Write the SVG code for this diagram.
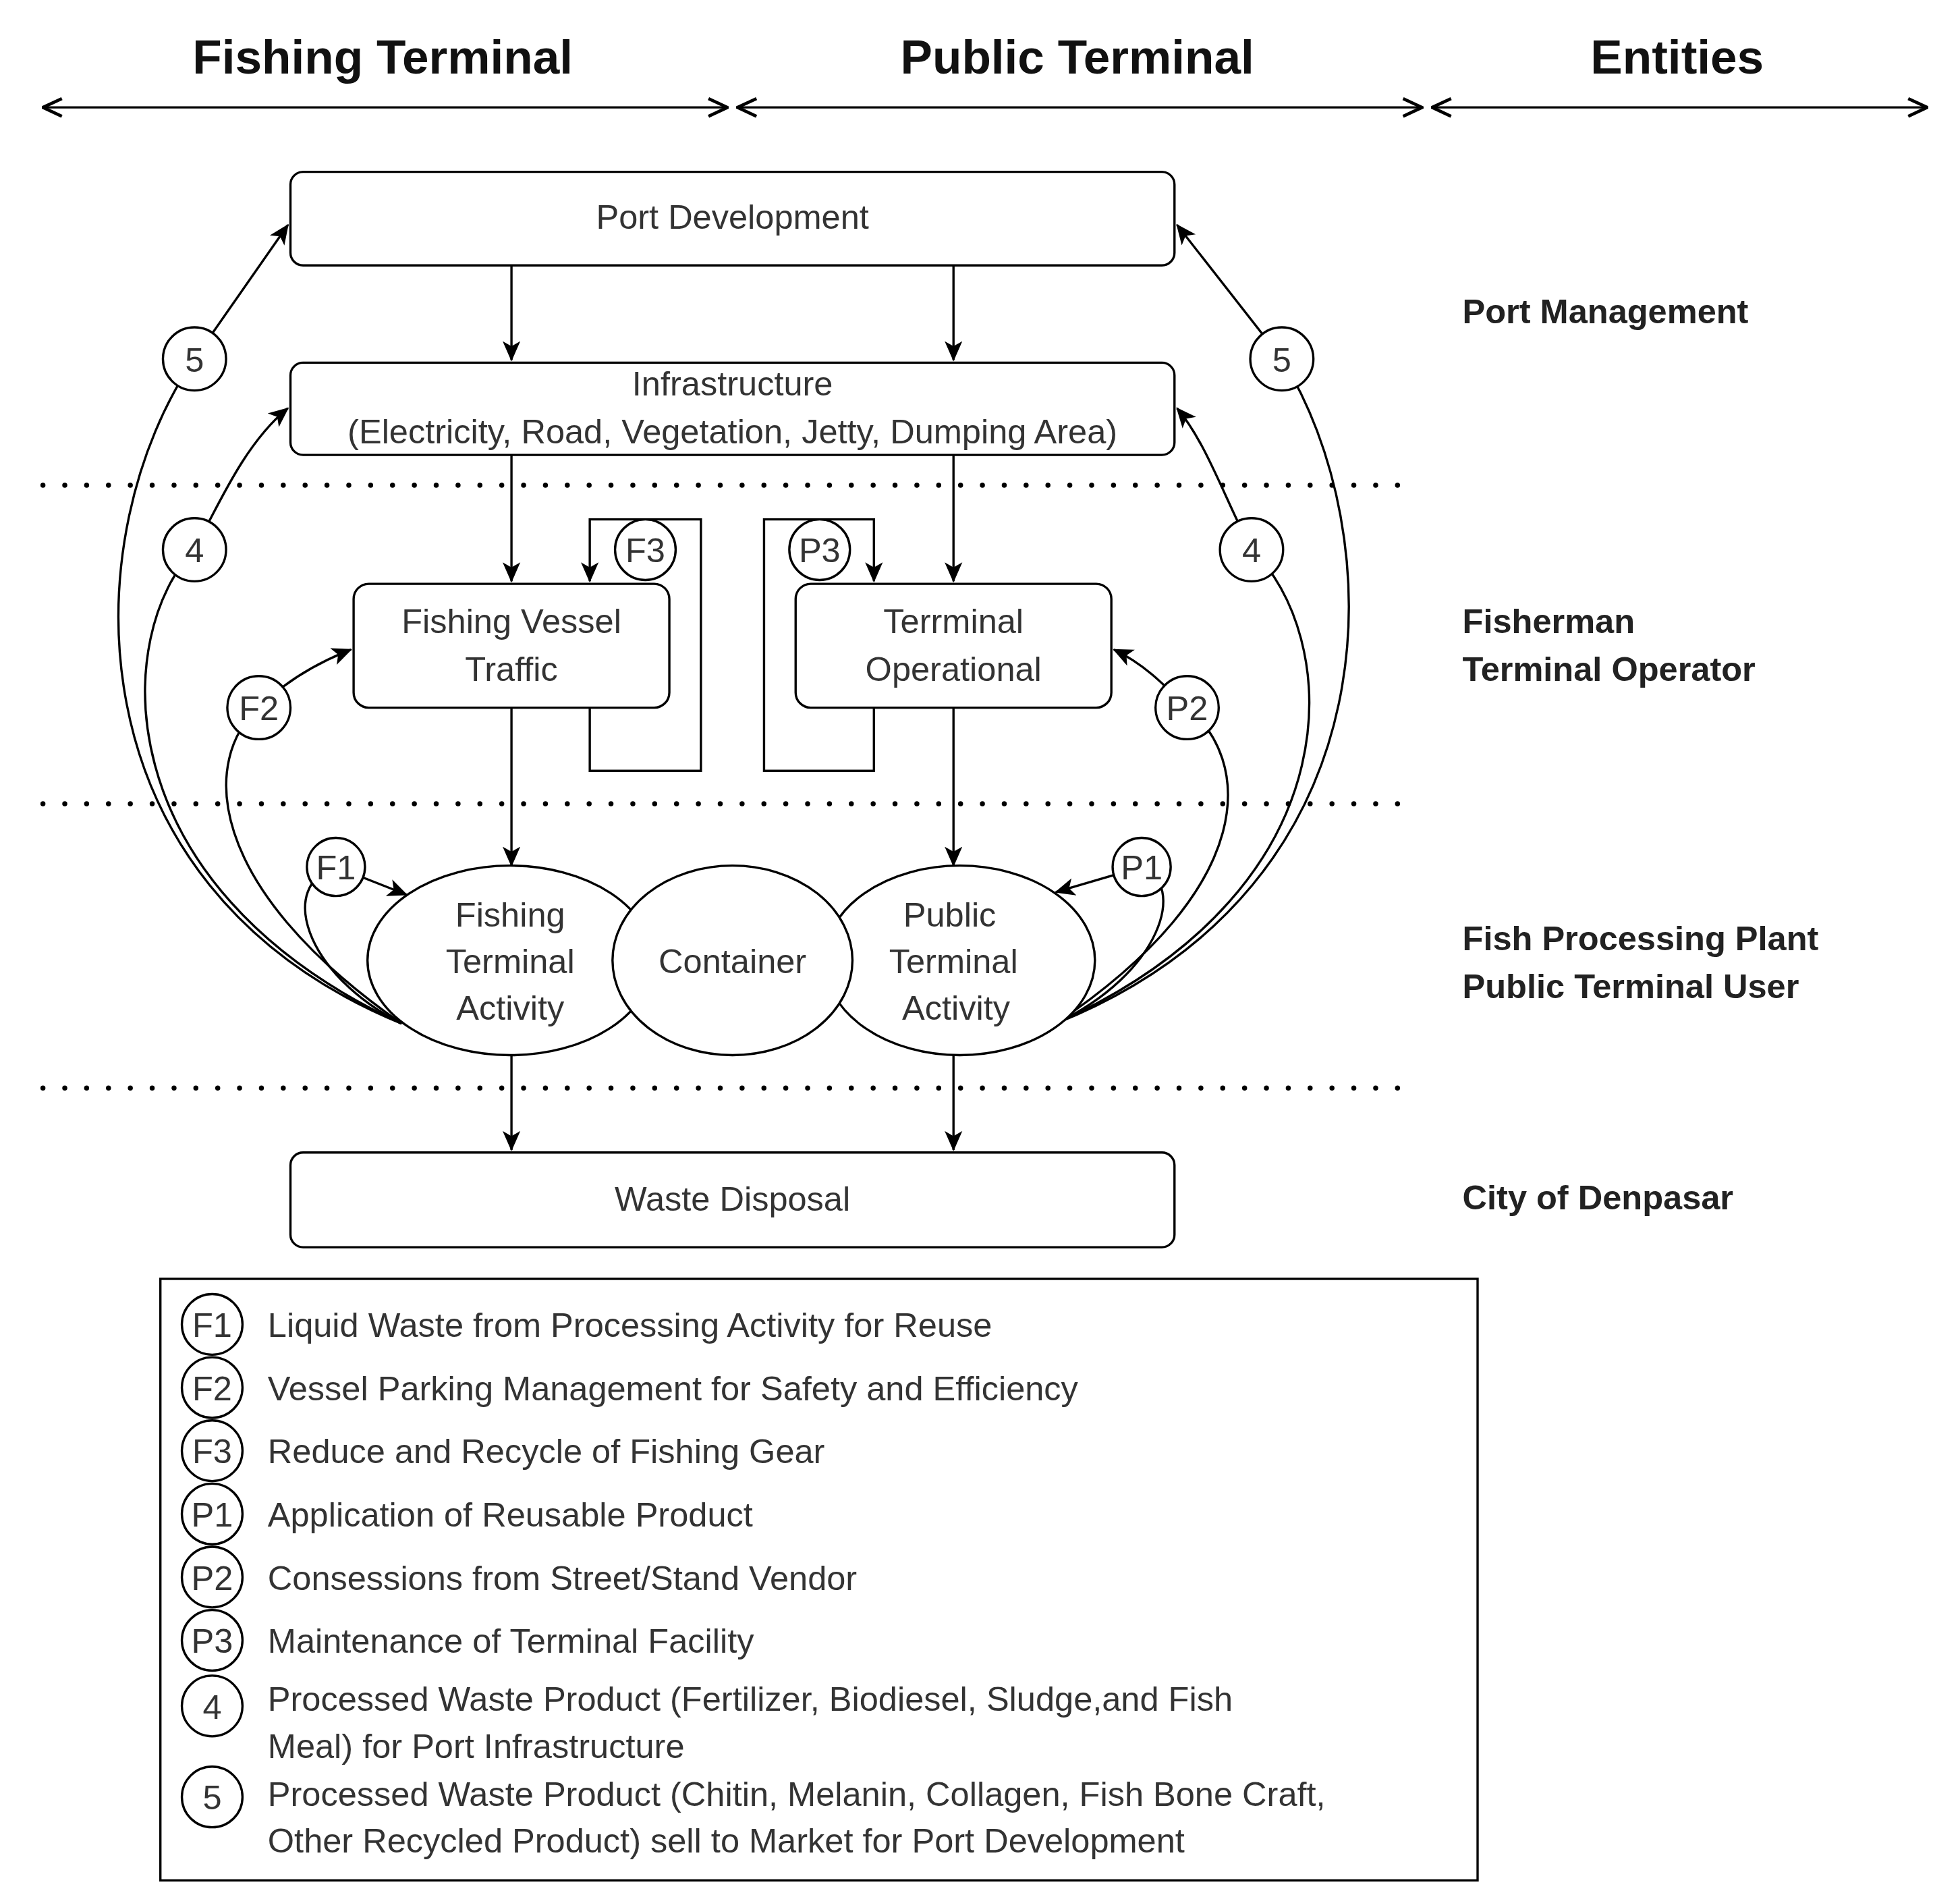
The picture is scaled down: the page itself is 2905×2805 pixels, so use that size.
<svg xmlns="http://www.w3.org/2000/svg" width="2905" height="2805" viewBox="0 0 2905 2805">
<defs>
<marker id="ah" markerUnits="userSpaceOnUse" markerWidth="16" markerHeight="16" viewBox="0 0 16 16" refX="15" refY="8" orient="auto-start-reverse"><path d="M0,1 L16,8 L0,15 L4,8 Z" fill="#000"/></marker>
<marker id="hh" markerUnits="userSpaceOnUse" markerWidth="18" markerHeight="18" viewBox="0 0 18 18" refX="17" refY="9" orient="auto-start-reverse"><path d="M2,2 L17,9 L2,16" fill="none" stroke="#000" stroke-width="2.5"/></marker>
</defs>
<style>
.box{fill:#fff;stroke:#000;stroke-width:1.8}
.c{fill:#fff;stroke:#000;stroke-width:1.8}
.ln{fill:none;stroke:#000;stroke-width:1.8}
.dot{fill:none;stroke:#000;stroke-width:4;stroke-linecap:round;stroke-dasharray:0 17.3}
.t{font-family:"Liberation Sans",Arial,sans-serif;font-size:27px;fill:#333;text-anchor:middle}
.h{font-family:"Liberation Sans",Arial,sans-serif;font-size:38px;font-weight:bold;fill:#111;text-anchor:middle}
.e{font-family:"Liberation Sans",Arial,sans-serif;font-size:27px;font-weight:bold;fill:#222}
.l{font-family:"Liberation Sans",Arial,sans-serif;font-size:27px;fill:#333}
</style>
<rect width="2905" height="2805" fill="#fff"/>
<g transform="scale(1.8718,1.8725)">
<g id="headers">
<text class="h" x="303" y="58">Fishing Terminal</text>
<text class="h" x="853" y="58">Public Terminal</text>
<text class="h" x="1328" y="58">Entities</text>
<text class="e" x="1158" y="256">Port Management</text>
<text class="e" x="1158" y="501">Fisherman</text>
<text class="e" x="1158" y="539">Terminal Operator</text>
<text class="e" x="1158" y="752">Fish Processing Plant</text>
<text class="e" x="1158" y="790">Public Terminal User</text>
<text class="e" x="1158" y="957">City of Denpasar</text>
</g>
<g id="separators">
<path class="dot" d="M34,384 H1118 M34,636 H1118 M34,861 H1118"/>
</g>
<g id="connectors">
<path class="ln" d="M34,85 H576" marker-start="url(#hh)" marker-end="url(#hh)"/>
<path class="ln" d="M584,85 H1126" marker-start="url(#hh)" marker-end="url(#hh)"/>
<path class="ln" d="M1134,85 H1526" marker-start="url(#hh)" marker-end="url(#hh)"/>
<path class="ln" d="M405,210 V285" marker-end="url(#ah)"/>
<path class="ln" d="M755,210 V285" marker-end="url(#ah)"/>
<path class="ln" d="M405,360 V460" marker-end="url(#ah)"/>
<path class="ln" d="M755,360 V460" marker-end="url(#ah)"/>
<path class="ln" d="M405,560 V685" marker-end="url(#ah)"/>
<path class="ln" d="M755,560 V685" marker-end="url(#ah)"/>
<path class="ln" d="M405,835 V910" marker-end="url(#ah)"/>
<path class="ln" d="M755,835 V910" marker-end="url(#ah)"/>
<path class="ln" d="M467,560 V610 H555 V411 H467 V460" marker-end="url(#ah)"/>
<path class="ln" d="M692,560 V610 H605 V411 H692 V460" marker-end="url(#ah)"/>
<path class="ln" d="M318,810 C50,700 60,420 154,284 L228,178" marker-end="url(#ah)"/>
<path class="ln" d="M318,810 C80,700 90,500 154,435 C175,395 195,350 228,323" marker-end="url(#ah)"/>
<path class="ln" d="M318,810 C160,700 160,600 205,560 C225,540 250,525 278,514" marker-end="url(#ah)"/>
<path class="ln" d="M318,810 C240,770 220,700 266,686 L322,708" marker-end="url(#ah)"/>
<path class="ln" d="M836,810 C1110,700 1100,420 1015,284 L932,178" marker-end="url(#ah)"/>
<path class="ln" d="M836,810 C1080,700 1060,500 991,435 C970,395 955,350 932,323" marker-end="url(#ah)"/>
<path class="ln" d="M836,810 C1000,700 990,600 940,560 C920,540 905,525 882,514" marker-end="url(#ah)"/>
<path class="ln" d="M836,810 C920,770 940,700 904,686 L836,706" marker-end="url(#ah)"/>
</g>
<g id="port-development"><rect class="box" x="230" y="136" width="700" height="74" rx="10"/><text class="t" x="580" y="181">Port Development</text></g>
<g id="infrastructure"><rect class="box" x="230" y="287" width="700" height="73" rx="10"/><text class="t" x="580" y="313">Infrastructure</text><text class="t" x="580" y="351">(Electricity, Road, Vegetation, Jetty, Dumping Area)</text></g>
<g id="fishing-vessel-traffic"><rect class="box" x="280" y="462" width="250" height="98" rx="12"/><text class="t" x="405" y="501">Fishing Vessel</text><text class="t" x="405" y="539">Traffic</text></g>
<g id="terminal-operational"><rect class="box" x="630" y="462" width="250" height="98" rx="12"/><text class="t" x="755" y="501">Terrminal</text><text class="t" x="755" y="539">Operational</text></g>
<g id="fishing-terminal-activity"><ellipse class="c" cx="404" cy="760" rx="113" ry="75"/><text class="t" x="404" y="733">Fishing</text><text class="t" x="404" y="770">Terminal</text><text class="t" x="404" y="807">Activity</text></g>
<g id="public-terminal-activity"><ellipse class="c" cx="760" cy="760" rx="107" ry="75"/><text class="t" x="752" y="733">Public</text><text class="t" x="755" y="770">Terminal</text><text class="t" x="757" y="807">Activity</text></g>
<g id="container"><ellipse class="c" cx="580" cy="760" rx="95" ry="75"/><text class="t" x="580" y="770">Container</text></g>
<g id="waste-disposal"><rect class="box" x="230" y="912" width="700" height="75" rx="10"/><text class="t" x="580" y="958">Waste Disposal</text></g>
<g id="labels">
<circle class="c" cx="154" cy="284" r="25"/><text class="t" x="154" y="294">5</text>
<circle class="c" cx="1015" cy="284" r="25"/><text class="t" x="1015" y="294">5</text>
<circle class="c" cx="154" cy="435" r="25"/><text class="t" x="154" y="445">4</text>
<circle class="c" cx="991" cy="435" r="25"/><text class="t" x="991" y="445">4</text>
<circle class="c" cx="205" cy="560" r="25"/><text class="t" x="205" y="570">F2</text>
<circle class="c" cx="940" cy="560" r="25"/><text class="t" x="940" y="570">P2</text>
<circle class="c" cx="266" cy="686" r="23"/><text class="t" x="266" y="696">F1</text>
<circle class="c" cx="904" cy="686" r="23"/><text class="t" x="904" y="696">P1</text>
<circle class="c" cx="511" cy="435" r="24"/><text class="t" x="511" y="445">F3</text>
<circle class="c" cx="649" cy="435" r="24"/><text class="t" x="649" y="445">P3</text>
</g>
<g id="legend">
<rect class="box" x="127" y="1012" width="1043" height="476" fill="none"/>
<circle class="c" cx="168" cy="1048" r="24"/><text class="t" x="168" y="1058">F1</text>
<circle class="c" cx="168" cy="1098" r="24"/><text class="t" x="168" y="1108">F2</text>
<circle class="c" cx="168" cy="1148" r="24"/><text class="t" x="168" y="1158">F3</text>
<circle class="c" cx="168" cy="1198" r="24"/><text class="t" x="168" y="1208">P1</text>
<circle class="c" cx="168" cy="1248" r="24"/><text class="t" x="168" y="1258">P2</text>
<circle class="c" cx="168" cy="1298" r="24"/><text class="t" x="168" y="1308">P3</text>
<circle class="c" cx="168" cy="1350" r="24"/><text class="t" x="168" y="1360">4</text>
<circle class="c" cx="168" cy="1422" r="24"/><text class="t" x="168" y="1432">5</text>
<text class="l" x="212" y="1058">Liquid Waste from Processing Activity for Reuse</text>
<text class="l" x="212" y="1108">Vessel Parking Management for Safety and Efficiency</text>
<text class="l" x="212" y="1158">Reduce and Recycle of Fishing Gear</text>
<text class="l" x="212" y="1208">Application of Reusable Product</text>
<text class="l" x="212" y="1258">Consessions from Street/Stand Vendor</text>
<text class="l" x="212" y="1308">Maintenance of Terminal Facility</text>
<text class="l" x="212" y="1354">Processed Waste Product (Fertilizer, Biodiesel, Sludge,and Fish</text>
<text class="l" x="212" y="1391">Meal) for Port Infrastructure</text>
<text class="l" x="212" y="1429">Processed Waste Product (Chitin, Melanin, Collagen, Fish Bone Craft,</text>
<text class="l" x="212" y="1466">Other Recycled Product) sell to Market for Port Development</text>
</g>
</g>
</svg>
